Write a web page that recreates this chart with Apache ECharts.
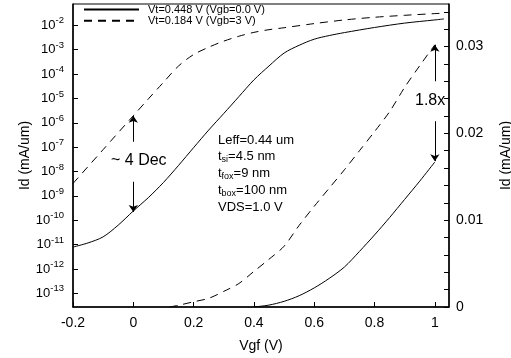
<!DOCTYPE html>
<html>
<head>
<meta charset="utf-8">
<script src="https://cdn.jsdelivr.net/npm/echarts@6/dist/echarts.min.js"></script>
<style>
html,body{margin:0;padding:0;background:#fff;}
#c{width:511px;height:358px;}
</style>
</head>
<body>
<div id="c"></div>
<script>
// ---- data ----
// x axis (Vgf, V) tick labels
const xTicks = [-0.2, 0, 0.2, 0.4, 0.6, 0.8, 1];
// left axis: decades (log10 of Id in mA/um)
const logTicks = [-13, -12, -11, -10, -9, -8, -7, -6, -5, -4, -3, -2];
// right axis (linear Id, mA/um)
const linLabels = [0, 0.01, 0.02, 0.03];
const linTickMarks = [0, 0.002, 0.004, 0.006, 0.008, 0.01, 0.012, 0.014, 0.016, 0.018, 0.02, 0.022, 0.024, 0.026, 0.028, 0.03, 0.032, 0.034];

// log-scale curves (values are log10(Id))
const xLogSolid = [-0.2, -0.15, -0.1, -0.05, 0, 0.05, 0.1, 0.15, 0.2, 0.25, 0.3, 0.35, 0.4, 0.45, 0.5, 0.55, 0.6, 0.65, 0.7, 0.8, 0.9, 1.0, 1.03];
const logSolid  = [-11.10, -10.93, -10.68, -10.20, -9.62, -9.07, -8.45, -7.75, -7.02, -6.30, -5.62, -4.93, -4.24, -3.67, -3.14, -2.82, -2.57, -2.42, -2.30, -2.09, -1.91, -1.78, -1.74];
const xLogDash  = [-0.2, -0.1, 0, 0.05, 0.1, 0.15, 0.2, 0.25, 0.3, 0.35, 0.4, 0.45, 0.5, 0.6, 0.7, 0.8, 0.9, 1.0, 1.03];
const logDash   = [-8.49, -7.10, -5.71, -5.02, -4.34, -3.67, -3.20, -2.90, -2.65, -2.45, -2.29, -2.18, -2.10, -1.93, -1.78, -1.67, -1.59, -1.52, -1.50];

// linear-scale curves (Id, mA/um)
const xLinSolid = [0.4, 0.45, 0.5, 0.55, 0.6, 0.65, 0.7, 0.75, 0.8, 0.85, 0.9, 0.95, 1.0];
const linSolid  = [0, 0.00022, 0.00065, 0.0013, 0.0022, 0.0033, 0.0046, 0.0064, 0.0083, 0.0103, 0.0124, 0.0145, 0.0167];
const xLinDash  = [0.12, 0.15, 0.2, 0.25, 0.3, 0.35, 0.4, 0.45, 0.5, 0.55, 0.6, 0.65, 0.7, 0.75, 0.8, 0.85, 0.9, 0.95, 1.0];
const linDash   = [0, 0.0002, 0.0006, 0.0010, 0.0018, 0.0027, 0.0041, 0.0055, 0.0070, 0.0094, 0.0116, 0.0137, 0.0158, 0.0180, 0.0202, 0.0225, 0.0253, 0.0278, 0.0302];

const nameSolid = 'Vt=0.448 V (Vgb=0.0 V)';
const nameDash  = 'Vt=0.184 V (Vgb=3 V)';

// annotation arrows (data units)
const arrowDecUp   = [[0, -6.78], [0, -5.71]];
const arrowDecDown = [[0, -8.42], [0, -9.66]];
const arrowXUp     = [[1, 0.0260], [1, 0.0302]];
const arrowXDown   = [[1, 0.0214], [1, 0.0168]];

// ---- chart ----
const FONT = '"Liberation Sans", Arial, sans-serif';
const pair = (xs, ys) => xs.map((x, i) => [x, ys[i]]);
const markArrows = (list) => ({
  silent: true,
  symbol: ['none', 'arrow'],
  symbolSize: 7,
  label: { show: false },
  lineStyle: { color: '#000', width: 1, type: 'solid' },
  itemStyle: { color: '#000' },
  emphasis: { disabled: true },
  animation: false,
  data: list.map(a => [{ coord: a[0] }, { coord: a[1] }])
});

const chart = echarts.init(document.getElementById('c'), null, { renderer: 'canvas' });
const lineBase = { type: 'line', showSymbol: false, symbol: 'none', smooth: 0.3, animation: false, silent: true };

chart.setOption({
  animation: false,
  textStyle: { fontFamily: FONT, color: '#000' },
  grid: { left: 73, right: 62, top: 4, bottom: 51, show: true, borderColor: '#000', borderWidth: 1, backgroundColor: 'transparent', containLabel: false, outerBoundsMode: 'none' },
  legend: {
    data: [nameSolid, nameDash],
    orient: 'vertical', left: 83, top: 4, padding: 0,
    itemWidth: 55, itemHeight: 14, itemGap: 0,
    selectedMode: false,
    itemStyle: { opacity: 0, borderWidth: 0 },
    textStyle: { fontSize: 11, fontFamily: FONT, color: '#000', padding: [0, 0, 0, 4] }
  },
  xAxis: {
    type: 'value', min: -0.2, max: 1.047,
    name: 'Vgf (V)', nameLocation: 'middle', nameGap: 32, nameMoveOverlap: false,
    nameTextStyle: { fontSize: 14, fontFamily: FONT, color: '#000' },
    axisLine: { onZero: false, lineStyle: { color: '#000', width: 1.5 } },
    axisTick: { inside: true, length: 5, customValues: xTicks, lineStyle: { color: '#000', width: 1 } },
    axisLabel: { customValues: xTicks, fontSize: 14, margin: 9, color: '#000', fontFamily: FONT, formatter: v => String(v) },
    splitLine: { show: false }
  },
  yAxis: [{
    type: 'value', min: -13.56, max: -1.126, position: 'left',
    name: 'Id (mA/um)', nameLocation: 'middle', nameGap: 41, nameRotate: 90, nameMoveOverlap: false,
    nameTextStyle: { fontSize: 14, fontFamily: FONT, color: '#000' },
    axisLine: { show: true, onZero: false, lineStyle: { color: '#000', width: 1.5 } },
    axisTick: { inside: true, length: 5, customValues: logTicks, lineStyle: { color: '#000', width: 1 } },
    axisLabel: {
      customValues: logTicks, margin: 9, color: '#000', fontFamily: FONT,
      formatter: v => '{b|10}{s|' + v + '}',
      rich: {
        b: { fontSize: 13, fontFamily: FONT, color: '#000' },
        s: { fontSize: 9.5, fontFamily: FONT, color: '#000', padding: [0, 0, 9, 0] }
      }
    },
    splitLine: { show: false }
  }, {
    type: 'value', min: 0, max: 0.0349, position: 'right',
    name: 'Id (mA/um)', nameLocation: 'middle', nameGap: 50, nameRotate: 90, nameMoveOverlap: false,
    nameTextStyle: { fontSize: 14, fontFamily: FONT, color: '#000' },
    axisLine: { show: true, onZero: false, lineStyle: { color: '#000', width: 1.5 } },
    axisTick: { inside: true, length: 5, customValues: linTickMarks, lineStyle: { color: '#000', width: 1 } },
    axisLabel: { customValues: linLabels, fontSize: 14, margin: 7, color: '#000', fontFamily: FONT, formatter: v => String(v) },
    splitLine: { show: false }
  }],
  series: [
    Object.assign({}, lineBase, { name: nameSolid, yAxisIndex: 0, data: pair(xLogSolid, logSolid),
      lineStyle: { color: '#000', width: 1, type: 'solid' }, itemStyle: { color: '#000' },
      markLine: markArrows([arrowDecDown]) }),
    Object.assign({}, lineBase, { name: nameDash, yAxisIndex: 0, data: pair(xLogDash, logDash),
      lineStyle: { color: '#000', width: 1, type: [8, 6] }, itemStyle: { color: '#000' },
      markLine: markArrows([arrowDecUp]) }),
    Object.assign({}, lineBase, { name: nameSolid, yAxisIndex: 1, data: pair(xLinSolid, linSolid),
      lineStyle: { color: '#000', width: 1, type: 'solid' }, itemStyle: { color: '#000' },
      markLine: markArrows([arrowXDown]) }),
    Object.assign({}, lineBase, { name: nameDash, yAxisIndex: 1, data: pair(xLinDash, linDash),
      lineStyle: { color: '#000', width: 1, type: [8, 6] }, itemStyle: { color: '#000' },
      markLine: markArrows([arrowXUp]) })
  ],
  graphic: [
    { type: 'text', left: 111, top: 153, silent: true, style: { text: '~ 4 Dec', fontSize: 16, fontFamily: FONT, fill: '#000' } },
    { type: 'text', left: 415, top: 93, silent: true, style: { text: '1.8x', fontSize: 16, fontFamily: FONT, fill: '#000' } },
    { type: 'text', left: 218, top: 134, silent: true, style: { text: 'Leff=0.44 um', fontSize: 13, fontFamily: FONT, fill: '#000' } },
    { type: 'text', left: 218, top: 150, silent: true, style: { text: 't{s|si}=4.5 nm', fontSize: 13, fontFamily: FONT, fill: '#000',
      rich: { s: { fontSize: 9, fontFamily: FONT, fill: '#000', padding: [6, 0, 0, 0] } } } },
    { type: 'text', left: 218, top: 167, silent: true, style: { text: 't{s|fox}=9 nm', fontSize: 13, fontFamily: FONT, fill: '#000',
      rich: { s: { fontSize: 9, fontFamily: FONT, fill: '#000', padding: [6, 0, 0, 0] } } } },
    { type: 'text', left: 218, top: 184, silent: true, style: { text: 't{s|box}=100 nm', fontSize: 13, fontFamily: FONT, fill: '#000',
      rich: { s: { fontSize: 9, fontFamily: FONT, fill: '#000', padding: [6, 0, 0, 0] } } } },
    { type: 'text', left: 218, top: 201, silent: true, style: { text: 'VDS=1.0 V', fontSize: 13, fontFamily: FONT, fill: '#000' } }
  ]
});
</script>
</body>
</html>
